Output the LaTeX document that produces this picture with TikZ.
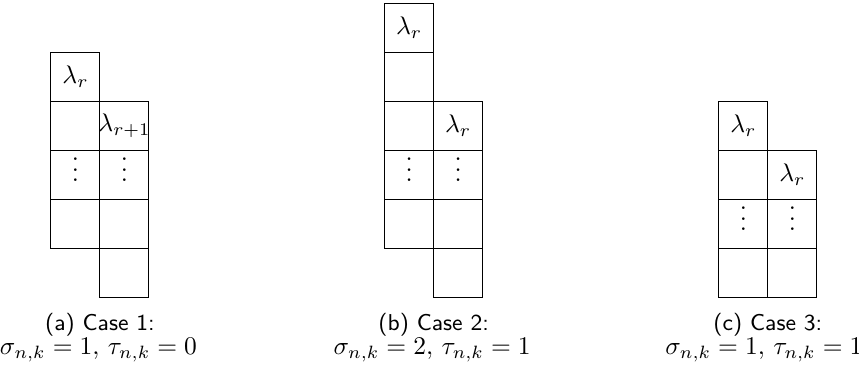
\documentclass[tikz,border=0pt]{standalone}
\usepackage{amsmath, amssymb}
\usepackage{tikz}

\begin{document}
\begin{tikzpicture}[x=0.676cm, y=0.676cm,
    cell/.style={draw, minimum size=0.676cm, inner sep=0pt, outer sep=0pt},
    dots/.style={yshift=5pt},
    capt/.style={anchor=base, font=\small\sffamily},
    capm/.style={anchor=base, inner sep=1pt}]
\useasboundingbox (0,-1.42) rectangle (17.53,6.07);

% Case 1
\foreach \n/\y in {1/4.5, 2/3.5, 3/2.5, 4/1.5}
    \node[cell] (aL\n) at (1.54,\y) {};
\foreach \n/\y in {1/3.5, 2/2.5, 3/1.5, 4/0.5}
    \node[cell] (aR\n) at (2.54,\y) {};
\node (laL1) at (aL1) {$\lambda_r$};
\node (laR1) at (aR1) {$\lambda_{r+1}$};
\node[dots] (vaL3) at (aL3) {$\vdots$};
\node[dots] (vaR2) at (aR2) {$\vdots$};
\node[capt] (capa) at (2.04,-0.684) {(a) Case 1:};
\node[capm] (capam) at (2.01,-1.163) {$\sigma_{n,k}=1,\, \tau_{n,k}=0$};

% Case 2
\foreach \n/\y in {1/5.5, 2/4.5, 3/3.5, 4/2.5, 5/1.5}
    \node[cell] (bL\n) at (8.35,\y) {};
\foreach \n/\y in {1/3.5, 2/2.5, 3/1.5, 4/0.5}
    \node[cell] (bR\n) at (9.35,\y) {};
\node (lbL1) at (bL1) {$\lambda_r$};
\node (lbR1) at (bR1) {$\lambda_r$};
\node[dots] (vbL4) at (bL4) {$\vdots$};
\node[dots] (vbR2) at (bR2) {$\vdots$};
\node[capt] (capb) at (8.85,-0.684) {(b) Case 2:};
\node[capm] (capbm) at (8.82,-1.163) {$\sigma_{n,k}=2,\, \tau_{n,k}=1$};

% Case 3
\foreach \n/\y in {1/3.5, 2/2.5, 3/1.5, 4/0.5}
    \node[cell] (cL\n) at (15.17,\y) {};
\foreach \n/\y in {1/2.5, 2/1.5, 3/0.5}
    \node[cell] (cR\n) at (16.17,\y) {};
\node (lcL1) at (cL1) {$\lambda_r$};
\node (lcR1) at (cR1) {$\lambda_r$};
\node[dots] (vcL3) at (cL3) {$\vdots$};
\node[dots] (vcR2) at (cR2) {$\vdots$};
\node[capt] (capc) at (15.67,-0.684) {(c) Case 3:};
\node[capm] (capcm) at (15.59,-1.163) {$\sigma_{n,k}=1,\, \tau_{n,k}=1$};

\end{tikzpicture}
\end{document}
